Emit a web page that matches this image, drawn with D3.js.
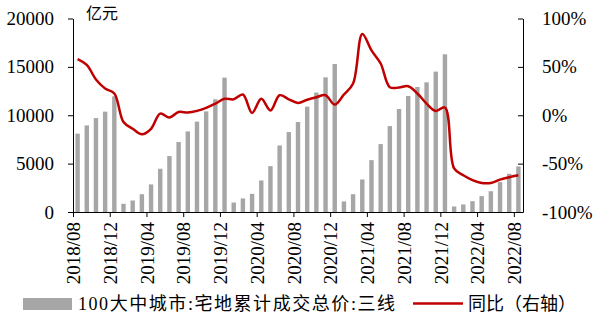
<!DOCTYPE html>
<html>
<head>
<meta charset="utf-8">
<script src="https://cdn.jsdelivr.net/npm/d3@7"></script>
<style>
  body { margin: 0; background: #fff; }
  svg { display: block; }
</style>
</head>
<body>
<svg id="chart" width="599" height="321"></svg>
<script>
// months 2018/08 .. 2022/08
let months = d3.timeMonth.range(new Date(2018, 7, 1), new Date(2022, 8, 1))
	.map(d3.timeFormat("%Y/%m"));

// 100大中城市:宅地累计成交总价:三线 (亿元)
let landValue = [8100, 8950, 9710, 10370, 11960,
	850, 1190, 1840, 2850, 4470, 5780, 7230, 8330, 9340, 10400, 11650, 13890,
	980, 1400, 1880, 3260, 4740, 6880, 8260, 9300, 10890, 12340, 13920, 15300,
	1090, 1840, 3360, 5360, 7020, 8880, 10640, 11990, 12920, 13400, 14510, 16300,
	570, 780, 1120, 1640, 2150, 3090, 3950, 4710];

// 同比 (%)
let yoy = [58, 52, 37, 27.6, 22.5,
	-7, -14, -19.7, -14, 1.7, -2.4, 3.4, 2.8, 4.5, 7.6, 12, 17,
	16.5, 21.4, 2.4, 17, 5, 20.7, 16.5, 12.7, 16, 18.6, 20.7, 11,
	21.4, 32.8, 84, 67, 53.5, 29, 28.6, 30, 22.5, 12, 4.5, 8,
	-55, -62, -67, -70, -70, -66.5, -64, -62];

let leftTicks = [0, 5000, 10000, 15000, 20000];
let rightTicks = [-1, -0.5, 0, 0.5, 1];
let xTickIdx = [0, 4, 8, 12, 16, 20, 24, 28, 32, 36, 40, 44, 48];

let plotLeft = 73, plotRight = 523, plotTop = 18.5, plotBottom = 212;
let serif = "'Liberation Serif', 'Times New Roman', serif";
let svg = d3.select("#chart");

let x = d3.scaleBand()
	.domain(months)
	.range([plotLeft, plotRight])
	.paddingInner(0.52)
	.paddingOuter(0.26);

let xTick = d3.scaleLinear()
	.domain([0, months.length])
	.range([plotLeft, plotRight]);

let yLeft = d3.scaleLinear().domain([0, 20000]).range([plotBottom, plotTop]);
let yRight = d3.scaleLinear().domain([-1, 1]).range([plotBottom, plotTop]);

// bars
svg.append("g")
	.selectAll("rect")
	.data(landValue)
	.enter().append("rect")
	.attr("x", function(d, i) { return x(months[i]); })
	.attr("y", function(d) { return yLeft(d); })
	.attr("width", x.bandwidth())
	.attr("height", function(d) { return plotBottom - yLeft(d); })
	.attr("fill", "#a6a6a6");

// yoy line
let yoyLine = d3.line()
	.x(function(d, i) { return x(months[i]) + x.bandwidth()/2; })
	.y(function(d) { return yRight(d/100); })
	.curve(d3.curveCatmullRom.alpha(0.5));

svg.append("path")
	.attr("d", yoyLine(yoy))
	.attr("fill", "none")
	.attr("stroke", "#c00000")
	.attr("stroke-width", 2.5);

// axes
function styleAxis(g) {
	g.attr("font-family", null).attr("font-size", null);
	g.selectAll("path, line").attr("stroke", "#000");
	g.selectAll("text")
		.attr("fill", "#000")
		.style("font-family", serif)
		.style("font-size", "19px");
}

svg.append("g")
	.attr("transform", "translate(" + plotLeft + ",0)")
	.call(d3.axisLeft(yLeft).tickValues(leftTicks).tickSize(5).tickSizeOuter(0).tickPadding(14)
		.tickFormat(d3.format("d")))
	.call(styleAxis);

svg.append("g")
	.attr("transform", "translate(" + plotRight + ",0)")
	.call(d3.axisRight(yRight).tickValues(rightTicks).tickSize(-5).tickSizeOuter(0).tickPadding(19)
		.tickFormat(function(d) { return Math.round(d*100) + "%"; }))
	.call(styleAxis);

svg.append("g")
	.attr("transform", "translate(0," + plotBottom + ")")
	.call(d3.axisBottom(xTick).tickValues(xTickIdx).tickSize(5).tickSizeOuter(0)
		.tickFormat(function(i) { return months[i]; }))
	.call(styleAxis)
	.selectAll("text")
	.attr("transform", "rotate(-90)")
	.attr("x", -10)
	.attr("y", 0)
	.attr("dy", "0.35em")
	.style("text-anchor", "end");

// unit label
svg.append("text")
	.attr("x", 86)
	.attr("y", 19)
	.style("font-family", "'Noto Sans CJK SC', sans-serif")
	.style("font-size", "16px")
	.text("亿元");

// legend
svg.append("rect")
	.attr("x", 23).attr("y", 298)
	.attr("width", 49).attr("height", 12)
	.attr("fill", "#a6a6a6");

svg.append("text")
	.attr("x", 78)
	.attr("y", 310)
	.attr("textLength", 317)
	.attr("lengthAdjust", "spacing")
	.style("font-family", "'Liberation Serif', 'Noto Sans CJK SC', serif")
	.style("font-size", "18px")
	.text("100大中城市:宅地累计成交总价:三线");

svg.append("line")
	.attr("x1", 413).attr("x2", 463)
	.attr("y1", 303.5).attr("y2", 303.5)
	.attr("stroke", "#c00000")
	.attr("stroke-width", 2.5);

svg.append("text")
	.attr("x", 468)
	.attr("y", 310)
	.style("font-family", "'Noto Sans CJK SC', sans-serif")
	.style("font-size", "18px")
	.text("同比（右轴）");
</script>
</body>
</html>
